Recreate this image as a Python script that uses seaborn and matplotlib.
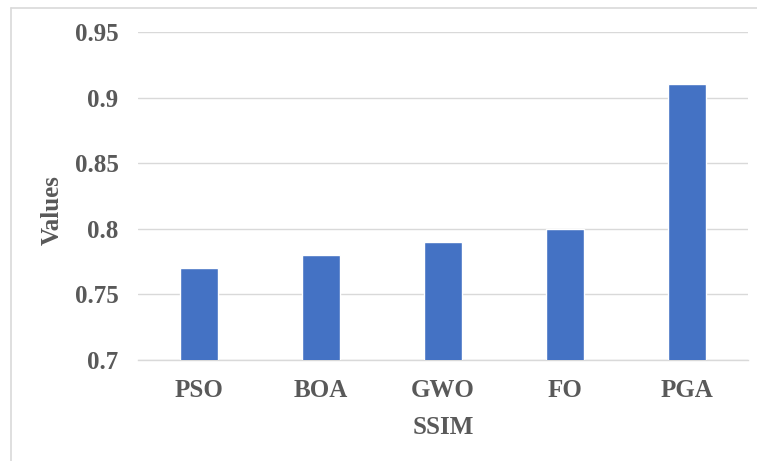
import matplotlib
matplotlib.use("Agg")
import matplotlib.pyplot as plt
import pandas as pd
import seaborn as sns
from matplotlib.lines import Line2D

algorithms = ["PSO", "BOA", "GWO", "FO", "PGA"]
ssim_values = [0.77, 0.78, 0.79, 0.80, 0.91]
y_ticks = [0.7, 0.75, 0.8, 0.85, 0.9, 0.95]
y_tick_labels = ["0.7", "0.75", "0.8", "0.85", "0.9", "0.95"]

df = pd.DataFrame({"algorithm": algorithms, "ssim": ssim_values})

sns.set_theme(style="white")
plt.rcParams["font.family"] = ["Liberation Serif", "DejaVu Serif"]
plt.rcParams["font.weight"] = "bold"

text_color = "#595959"
grid_color = "#D9D9D9"
font_size = 18

fig = plt.figure(figsize=(7.57, 4.61), dpi=100)
ax = fig.add_axes([0.1823, 0.2191, 0.8057, 0.7115])

sns.barplot(data=df, x="algorithm", y="ssim", color="#4472C4", width=0.31,
            saturation=1, ax=ax, zorder=3)

ax.set_ylim(0.7, 0.95)
ax.set_yticks(y_ticks)
ax.set_yticklabels(y_tick_labels)
ax.set_xlim(-0.5, len(algorithms) - 0.5)

ax.yaxis.grid(True, color=grid_color, linewidth=1, zorder=0)
for side in ["top", "right", "left"]:
    ax.spines[side].set_visible(False)
ax.spines["bottom"].set_color(grid_color)
ax.spines["bottom"].set_linewidth(1)

ax.tick_params(axis="both", length=0, labelsize=font_size, labelcolor=text_color)
ax.tick_params(axis="y", pad=14)
ax.tick_params(axis="x", pad=14)
for lbl in ax.get_xticklabels() + ax.get_yticklabels():
    lbl.set_fontweight("bold")

ax.set_xlabel("SSIM", fontsize=font_size, fontweight="bold", color=text_color)
ax.set_ylabel("Values", fontsize=font_size, fontweight="bold", color=text_color)
ax.xaxis.set_label_coords(0.5, -0.172)
ax.yaxis.set_label_coords(-0.122, 0.457)

# light chart-area border (left and top edges visible in the reference)
fig.add_artist(Line2D([10.5 / 757, 10.5 / 757], [0, 1 - 8 / 461],
                      transform=fig.transFigure, color=grid_color, linewidth=1.2))
fig.add_artist(Line2D([10.5 / 757, 1], [1 - 8 / 461, 1 - 8 / 461],
                      transform=fig.transFigure, color=grid_color, linewidth=1.2))

fig.savefig("out.png", dpi=100)
